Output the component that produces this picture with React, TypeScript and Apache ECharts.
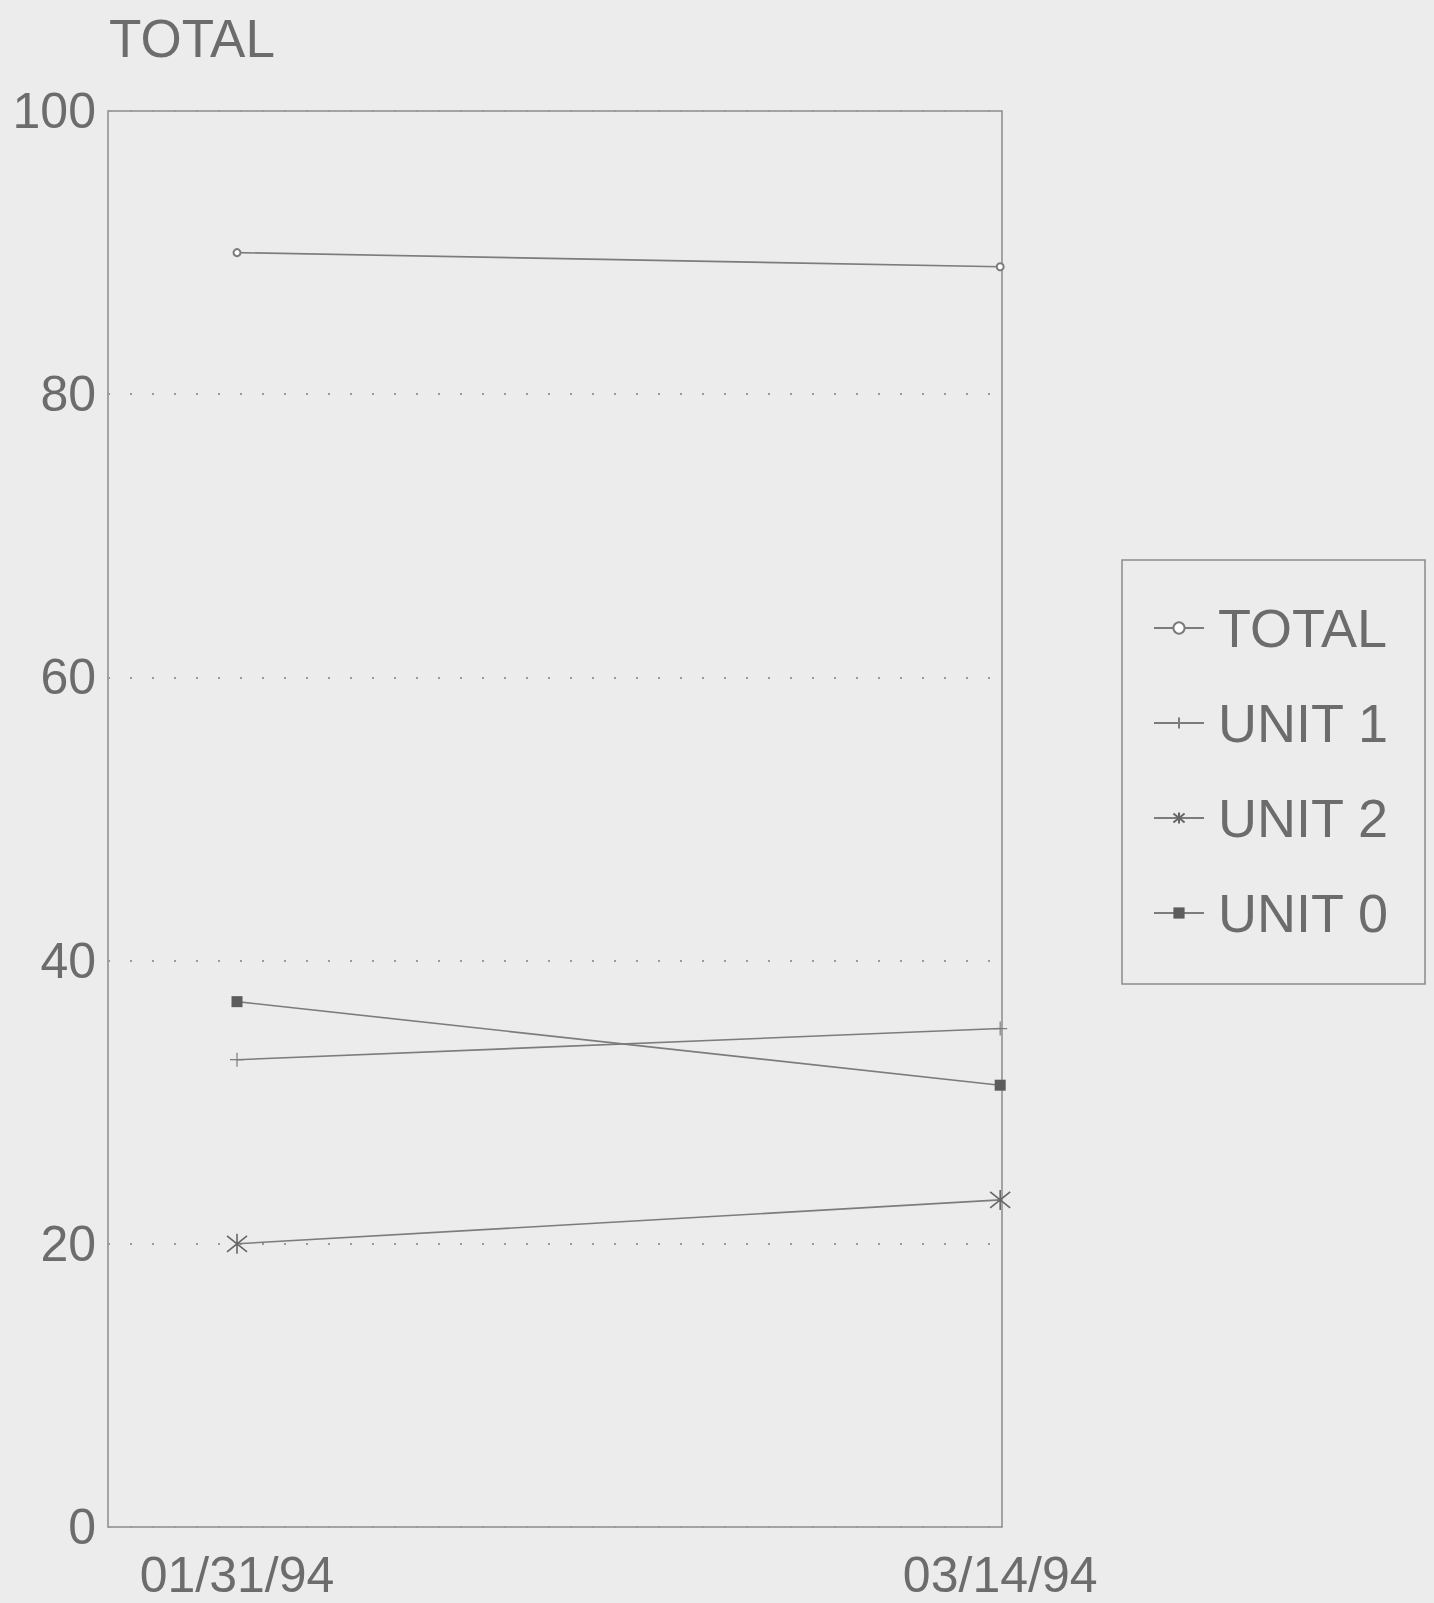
import React, { useEffect, useRef } from "react";
import * as echarts from "echarts";

const dateLabels: string[] = ["01/31/94", "03/14/94"];
const seriesNames: string[] = ["TOTAL", "UNIT 1", "UNIT 2", "UNIT 0"];
const totalValues: number[] = [90, 89];
const unit1Values: number[] = [33, 35.2];
const unit2Values: number[] = [20, 23.1];
const unit0Values: number[] = [37.1, 31.2];
const yTicks: number[] = [0, 20, 40, 60, 80, 100];

function parseDate(s: string): number {
  const [m, d, y] = s.split("/").map(Number);
  return Date.UTC(1900 + y, m - 1, d);
}
const dayOffsets: number[] = dateLabels.map(
  (s) => Math.round((parseDate(s) - parseDate(dateLabels[0])) / 86400000)
);

const FONT = "'Liberation Sans', Arial, sans-serif";
const TEXT = "#6c6c6c";
const LINE = "#7c7c7c";

const PLUS = "path://M0,5 L10,5 M5,0 L5,10";
const STAR = "path://M5,0 L5,10 M0,1 L10,9 M10,1 L0,9";

export default function App() {
  const ref = useRef<HTMLDivElement>(null);
  useEffect(() => {
    if (!ref.current) return;
    const chart = echarts.init(ref.current, null, { renderer: "svg" });
    const mk = (vals: number[]) => vals.map((v, i) => [dayOffsets[i], v]);
    const lineStyle = { color: LINE, width: 1.6 };
    const option: any = {
      animation: false,
      backgroundColor: "#ececec",
      textStyle: { fontFamily: FONT },
      title: {
        text: "TOTAL",
        left: 104,
        top: 7,
        textStyle: { fontSize: 53, fontWeight: "normal", color: TEXT, fontFamily: FONT },
      },
      legend: {
        orient: "vertical",
        left: 1122,
        top: 560,
        width: 304,
        padding: [41, 36, 44, 31],
        itemGap: 41,
        itemWidth: 50,
        itemHeight: 14,
        borderColor: "#8a8a8a",
        borderWidth: 1.5,
        data: seriesNames,
        textStyle: {
          fontSize: 54,
          lineHeight: 54,
          color: TEXT,
          fontFamily: FONT,
          padding: [0, 0, 0, 9],
        },
      },
      grid: {
        left: 108,
        top: 111,
        width: 894,
        height: 1416,
        show: true,
        borderColor: "#8a8a8a",
        borderWidth: 1.5,
        backgroundColor: "transparent",
      },
      xAxis: {
        type: "value",
        min: -7.1,
        max: 42.1,
        axisLine: { show: false },
        axisTick: { show: false },
        splitLine: { show: false },
        axisLabel: {
          customValues: dayOffsets,
          formatter: (v: number) => {
            const i = dayOffsets.indexOf(Math.round(v));
            return i >= 0 ? dateLabels[i] : "";
          },
          fontSize: 50,
          lineHeight: 50,
          color: TEXT,
          fontFamily: FONT,
          margin: 23,
        },
      },
      yAxis: {
        type: "value",
        min: yTicks[0],
        max: yTicks[yTicks.length - 1],
        interval: 20,
        axisLine: { show: false },
        axisTick: { show: false },
        splitLine: {
          show: true,
          lineStyle: { color: "#9a9a9a", width: 2, type: [2, 20] },
        },
        axisLabel: {
          fontSize: 50,
          color: TEXT,
          fontFamily: FONT,
          margin: 12,
        },
      },
      series: [
        {
          name: seriesNames[0],
          type: "line",
          data: mk(totalValues),
          symbol: "emptyCircle",
          symbolSize: 7,
          lineStyle,
          itemStyle: { color: LINE, borderColor: LINE, borderWidth: 1.5 },
        },
        {
          name: seriesNames[1],
          type: "line",
          data: mk(unit1Values),
          symbol: PLUS,
          symbolSize: 14,
          lineStyle,
          itemStyle: { color: "none", borderColor: LINE, borderWidth: 1.2 },
        },
        {
          name: seriesNames[2],
          type: "line",
          data: mk(unit2Values),
          symbol: STAR,
          symbolSize: 20,
          lineStyle,
          itemStyle: { color: "none", borderColor: "#666", borderWidth: 1.6 },
        },
        {
          name: seriesNames[3],
          type: "line",
          data: mk(unit0Values),
          symbol: "rect",
          symbolSize: 11,
          lineStyle,
          itemStyle: { color: "#5c5c5c" },
        },
      ],
    };
    chart.setOption(option);
    return () => chart.dispose();
  }, []);
  return (
    <div
      ref={ref}
      style={{ position: "absolute", left: 0, top: 0, width: 1434, height: 1603 }}
    />
  );
}
